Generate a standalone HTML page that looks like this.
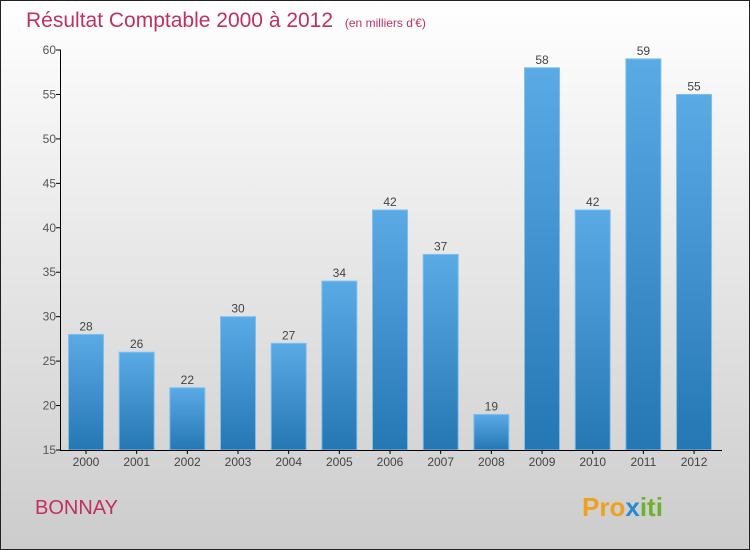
<!DOCTYPE html>
<html><head><meta charset="utf-8"><style>
body{margin:0;width:750px;height:550px;overflow:hidden}
svg{display:block;font-family:"Liberation Sans",sans-serif}
</style></head><body>
<svg id="c" width="750" height="550">
<defs>
<linearGradient id="bg" x1="0" y1="0" x2="0" y2="1"><stop offset="0" stop-color="#ffffff"/><stop offset="1" stop-color="#cccccc"/></linearGradient>
<linearGradient id="bar" x1="0" y1="0" x2="0" y2="1"><stop offset="0" stop-color="#5aaae6"/><stop offset="1" stop-color="#2577b4"/></linearGradient>
</defs>
<rect x="0.5" y="0.5" width="749" height="549" fill="url(#bg)" stroke="#222"/>
<text x="26" y="27" font-size="21" fill="#c2305f">Résultat Comptable 2000 à 2012 <tspan font-size="12" dx="6">(en milliers d'€)</tspan></text>
<text x="35" y="514" font-size="20" fill="#c2305f">BONNAY</text>
<text x="582" y="516" font-size="26" font-weight="bold"><tspan fill="#f0a020">Pro</tspan><tspan fill="#2a8ad0">x</tspan><tspan fill="#70b030">iti</tspan></text>
<g id="plot"></g>
</svg>
<script>
const categories=["2000","2001","2002","2003","2004","2005","2006","2007","2008","2009","2010","2011","2012"];
const values=[28,26,22,30,27,34,42,37,19,58,42,59,55];
const yTicks=[15,20,25,30,35,40,45,50,55,60];
const ns="http://www.w3.org/2000/svg",g=document.getElementById('plot');
const y=v=>450-(v-15)*(400/45);
const x=i=>86+i*50.67;
function el(t,a){const e=document.createElementNS(ns,t);for(const k in a)e.setAttribute(k,a[k]);g.appendChild(e);return e;}
yTicks.forEach(t=>{
  const l=el('line',{x1:56,x2:61,y1:y(t),y2:y(t),stroke:'#000'});
  
  
  const tx=el('text',{x:56,y:y(t)+4,'text-anchor':'end','font-size':12,fill:'#555'});tx.textContent=t;
  
  
});
categories.forEach((c,i)=>{
  const v=values[i];
  const r=el('rect',{x:x(i)-17.5,y:y(v),width:35,height:450-y(v),fill:'url(#bar)',stroke:'#7cc0f0','stroke-width':1});
  
  
  const vl=el('text',{x:x(i),y:y(v)-4,'text-anchor':'middle','font-size':12,fill:'#444'});vl.textContent=v;
  
  
  const tk=el('line',{x1:x(i),x2:x(i),y1:450,y2:454,stroke:'#000'});
  
  
  const xl=el('text',{x:x(i),y:466,'text-anchor':'middle','font-size':12,fill:'#444'});xl.textContent=c;
  
  
});
const ax=el('line',{x1:60.5,x2:60.5,y1:50,y2:450.5,stroke:'#000'});


const bx=el('line',{x1:60,x2:722,y1:450.5,y2:450.5,stroke:'#000'});


</script>
</body></html>
